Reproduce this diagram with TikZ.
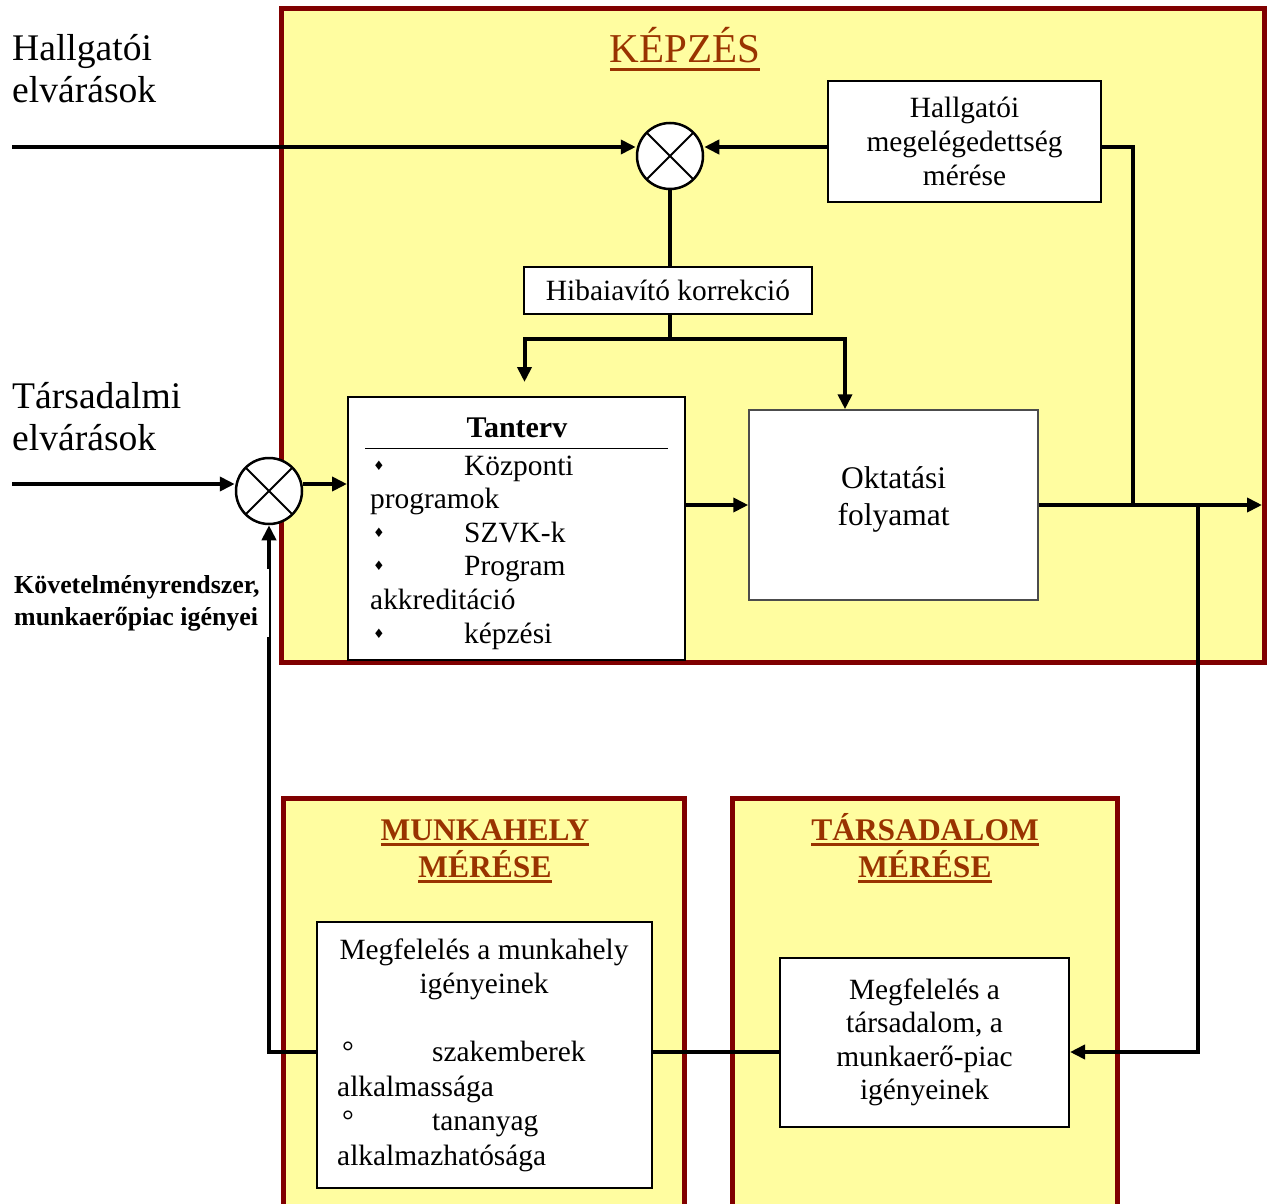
\documentclass[tikz,border=0pt]{standalone}
\usepackage{fontspec}
\setmainfont{Liberation Serif}
\newfontfamily\jelfont{DejaVu Sans}
\usetikzlibrary{arrows.meta}

\definecolor{sarga}{RGB}{255,253,160}
\definecolor{bordo}{RGB}{128,0,0}
\definecolor{barna}{RGB}{153,51,0}

\newcommand{\meret}[2]{\fontsize{#1}{#2}\selectfont}
\newsavebox{\alahuzdoboz}
\newcommand{\vastagal}[2]{\sbox{\alahuzdoboz}{#2}\rlap{\rule[-#1]{\wd\alahuzdoboz}{3pt}}\usebox{\alahuzdoboz}}
\newcommand{\tbul}{\makebox[94pt][l]{\hspace{3pt}\raisebox{5pt}{\jelfont\meret{13}{13}♦}}}
\newcommand{\kor}{\makebox[95pt][l]{\hspace{5pt}°}}

\tikzset{keret/.style = {draw=bordo, line width=5pt, fill=sarga},
         doboz/.style = {draw, line width=2pt, fill=white, inner sep=0pt, align=center,
                         font=\meret{29.4}{34}},
         osszegzo/.style = {circle, draw, line width=2.5pt, fill=white, minimum size=66pt, inner sep=0pt,
                            path picture={\draw[line width=2pt]
                              (path picture bounding box.north west) -- (path picture bounding box.south east)
                              (path picture bounding box.north east) -- (path picture bounding box.south west);}},
         nyil/.style = {line width=4pt, -{Triangle[length=15pt,width=14pt]}},
         vonal/.style = {line width=3.5pt},
         cim/.style = {text=barna, inner sep=0pt, align=center},
         felirat/.style = {inner sep=0pt, align=left, font=\meret{37.6}{42}},
         szoveg/.style = {inner sep=0pt, font=\meret{29.4}{34}}
        }

\begin{document}
\begin{tikzpicture}[x=1pt, y=-1pt]
  \useasboundingbox (0,0) rectangle (1269,1204);
  \clip (0,0) rectangle (1269,1204);
  \fill[white] (0,0) rectangle (1269,1204);

  % keretek
  \draw[keret] (281,9) rectangle (1264,662);
  \draw[keret] (283,798) rectangle (684,1240);
  \draw[keret] (732,798) rectangle (1117,1240);

  \node[cim, anchor=base, font=\meret{41}{47}] (kepzes) at (685,63) {\vastagal{8.5pt}{KÉPZÉS}};
  \node[cim, anchor=base, font=\bfseries\meret{31.5}{37}] (munkcim) at (485,877)
       {\vastagal{5.5pt}{MUNKAHELY}\\ \vastagal{5.5pt}{MÉRÉSE}};
  \node[cim, anchor=base, font=\bfseries\meret{31.5}{37}] (tarscim) at (925,877)
       {\vastagal{5.5pt}{TÁRSADALOM}\\ \vastagal{5.5pt}{MÉRÉSE}};

  \node[felirat, anchor=base west] (hallg) at (12,103) {Hallgatói\\ elvárások};
  \node[felirat, anchor=base west] (tars) at (12,450) {Társadalmi\\ elvárások};

  % blokkok
  \node[osszegzo] (sumA) at (670,156) {};
  \node[osszegzo] (sumB) at (269,491) {};
  \node[doboz, minimum width=273pt, minimum height=121pt] (meres) at (964.5,141.5)
       {Hallgatói\\ megelégedettség\\ mérése};
  \node[doboz, minimum width=288pt, minimum height=47pt] (hiba) at (668,290.5) {Hibaiavító korrekció};
  \node[doboz, minimum width=337pt, minimum height=263pt] (tanterv) at (516.5,528.5) {};
  \node[szoveg, anchor=base, font=\bfseries\meret{30}{34}] (tantcim) at (517,437) {Tanterv};
  \draw[line width=1pt] (365,448) -- (668,448);
  \node[szoveg, anchor=base west, align=left, font=\meret{29.4}{33.6}] (tantlista) at (370,643)
       {\tbul Központi\\ programok\\ \tbul SZVK-k\\ \tbul Program\\ akkreditáció\\ \tbul képzési};
  \node[doboz, line width=1.5pt, draw=black!70, minimum width=289pt, minimum height=190pt,
        font=\meret{31.5}{37}] (oktat) at (893.5,505) {Oktatási\\ folyamat\\[-20pt]};
  \node[doboz, minimum width=335pt, minimum height=266pt] (munkb) at (484.5,1055) {};
  \node[szoveg, anchor=base, align=center, font=\meret{29.4}{33.5}] (munkfej) at (484,993)
       {Megfelelés a munkahely\\ igényeinek};
  \node[szoveg, anchor=base west, align=left, font=\meret{29.4}{34.5}] (munklista) at (337,1165)
       {\kor szakemberek\\ alkalmassága\\ \kor tananyag\\ alkalmazhatósága};
  \node[doboz, minimum width=289pt, minimum height=169pt, font=\meret{29.4}{33.5}] (tarsb) at (924.5,1042.5)
       {Megfelelés a\\ társadalom, a\\ munkaerő-piac\\ igényeinek};

  % kapcsolatok
  \coordinate (beA) at (12,147);
  \coordinate (beB) at (12,484);
  \coordinate (ki) at (1262,505);
  \coordinate (elag1) at (1133,505);
  \coordinate (elag2) at (1198,505);
  \coordinate (alj) at (0,1052);

  \draw[nyil] (beA) -- (beA -| sumA.west);
  \draw[nyil] (meres.west |- beA) -- (sumA.east |- beA);
  \draw[vonal] (meres.east |- beA) -| (elag1);
  \draw[vonal] (sumA.south) -- (sumA.south |- hiba.north);
  \draw[vonal] (sumA.south |- hiba.south) -- ++(0,24) coordinate (eloszt);
  \draw[nyil, shorten >=14pt] (eloszt) -| ([xshift=8pt]tanterv.north);
  \draw[nyil] (eloszt) -| ([xshift=-48.5pt]oktat.north);
  \draw[nyil] (beB) -- (beB -| sumB.west);
  \draw[nyil] (sumB.east |- beB) -- (tanterv.west |- beB);
  \draw[nyil] (tanterv.east |- oktat.west) -- (oktat.west);
  \draw[nyil] (oktat.east) -- (ki);
  \draw[nyil] (elag2) |- (tarsb.east |- alj);
  \draw[vonal] (tarsb.west |- alj) -- (munkb.east |- alj);
  \draw[nyil] (munkb.west |- alj) -| (sumB.south);

  \node[anchor=base west, fill=white, inner xsep=10pt, inner ysep=6pt, align=left,
        font=\bfseries\meret{25.9}{32}] (kovet) at (4,625) {Követelményrendszer,\\ munkaerőpiac igényei};
\end{tikzpicture}
\end{document}
